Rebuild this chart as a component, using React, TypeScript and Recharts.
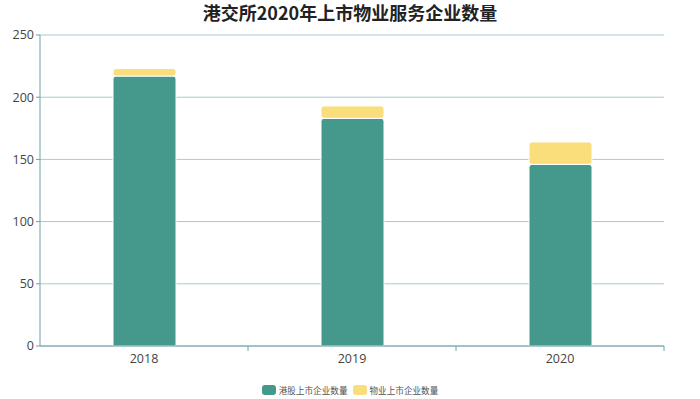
import React from 'react';
import { BarChart, Bar, XAxis, YAxis, CartesianGrid, Legend } from 'recharts';

const years = ['2018', '2019', '2020'];
const hkListed = [217, 183, 146];
const propertyListed = [6, 10, 18];
const yTicks = [0, 50, 100, 150, 200, 250];

const GREEN = '#45998c';
const YELLOW = '#f9de7b';
const AXIS = '#6e9faa';

const data = years.map((y, i) => ({ year: y, a: hkListed[i], b: propertyListed[i] }));

const LegendContent = () => (
  <div style={{ display: 'flex', justifyContent: 'center', gap: 5, fontSize: 8.6, color: '#555', fontFamily: 'Noto Sans CJK SC, sans-serif', lineHeight: '18px' }}>
    {[{ c: GREEN, t: '港股上市企业数量' }, { c: YELLOW, t: '物业上市企业数量' }].map((it) => (
      <div key={it.t} style={{ display: 'flex', alignItems: 'center' }}>
        <span style={{ display: 'inline-block', width: 14, height: 10, borderRadius: 3, background: it.c, marginRight: 3 }} />
        <span>{it.t}</span>
      </div>
    ))}
  </div>
);

const XTick = (props: any) => {
  const { x, y, payload, width, visibleTicksCount } = props;
  const band = width && visibleTicksCount ? width / visibleTicksCount : 208;
  return (
    <g>
      <line x1={x + band / 2} x2={x + band / 2} y1={y - 8} y2={y - 3} stroke={AXIS} />
      <text x={x} y={y + 9} textAnchor="middle" fill="#444" fontSize={12.5} fontFamily="Open Sans, sans-serif">
        {payload.value}
      </text>
    </g>
  );
};

export default function App() {
  return (
    <div style={{ position: 'absolute', left: 0, top: 0, width: 700, height: 399, background: '#fff' }}>
      <BarChart width={700} height={399} data={data} margin={{ top: 35, right: 36, left: 0, bottom: 0 }}>
        <CartesianGrid horizontal vertical={false} stroke="#a6cbd0" />
        <XAxis dataKey="year" axisLine={{ stroke: AXIS }} tickLine={false} tick={<XTick />} height={35} />
        <YAxis domain={[0, 250]} ticks={yTicks} width={40} axisLine={{ stroke: AXIS }} tickLine={{ stroke: AXIS }} tickSize={4} tick={{ fill: '#444', fontSize: 12.5, fontFamily: 'Open Sans, sans-serif' }} />
        <Legend verticalAlign="bottom" height={18} wrapperStyle={{ left: 0, width: 700 }} content={<LegendContent />} />
        <Bar dataKey="a" stackId="s" fill={GREEN} barSize={63} stroke="#fff" strokeWidth={1} radius={[3, 3, 0, 0]} isAnimationActive={false} />
        <Bar dataKey="b" stackId="s" fill={YELLOW} barSize={63} stroke="#fff" strokeWidth={1} radius={[3, 3, 3, 3]} isAnimationActive={false} />
      </BarChart>
      <div style={{ position: 'absolute', top: 0, left: 0, width: 700, textAlign: 'center', fontSize: 18, fontWeight: 'bold', color: '#222', fontFamily: 'Noto Sans CJK SC, sans-serif', lineHeight: '24px' }}>
        港交所2020年上市物业服务企业数量
      </div>
    </div>
  );
}
